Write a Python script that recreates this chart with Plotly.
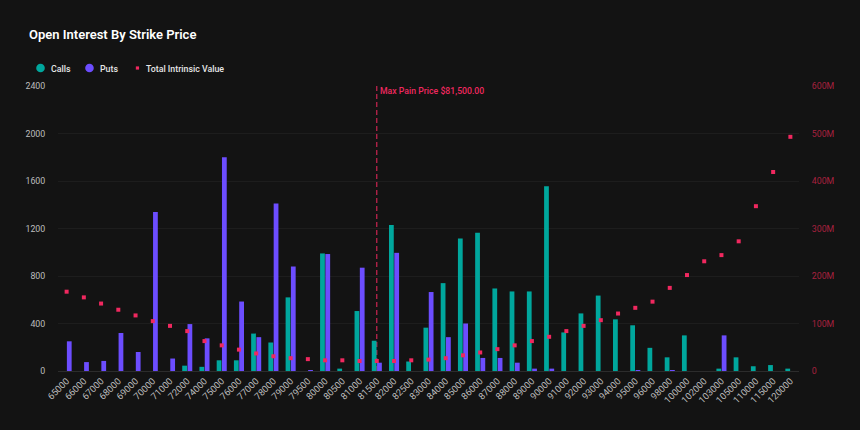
import plotly.graph_objects as go

strikes = [65000,66000,67000,68000,69000,70000,71000,72000,74000,75000,76000,77000,78000,79000,79500,
           80000,80500,81000,81500,82000,82500,83000,84000,85000,86000,87000,88000,89000,90000,91000,
           92000,93000,94000,95000,96000,98000,100000,102000,103000,105000,110000,115000,120000]
calls = [0,0,0,0,0,0,0,45,35,90,90,315,240,620,0,
         990,20,505,255,1230,80,365,740,1115,1165,695,670,670,1555,325,
         485,635,435,385,195,115,300,0,20,115,40,50,20]
puts = [250,75,85,320,160,1340,105,395,275,1800,585,285,1410,880,8,
        985,0,870,70,995,0,665,285,400,110,110,70,20,20,0,
        0,0,0,8,0,8,0,0,300,0,0,0,0]
intrinsic_m = [167,155,142,129,117,105,95,84,63,54,45,37,31,27,25,
               22.5,22.5,21,21,21,22.5,24,27,33,39,46,54,63,72,84,
               95,107,121,133,146,175,202,231,244,273,347,419,493]
left_ticks = [0,400,800,1200,1600,2000,2400]
right_ticks = [0,100,200,300,400,500,600]
right_labels = ["0","100M","200M","300M","400M","500M","600M"]
max_pain_strike = "81500"
max_pain_label = "Max Pain Price $81,500.00"
legend_names = ["Calls", "Puts", "Total Intrinsic Value"]

BG = "#131313"; TEAL = "#00A79D"; PURPLE = "#6C4DFF"; RED = "#F0285F"
FONT = "Roboto"
W, H = 860, 430
ML, MR, MT, MB = 57.5, 61, 86, 59
cats = [str(s) for s in strikes]
pain_pos = cats.index(max_pain_strike)

def px(x):
    return (x - ML) / (W - ML - MR)
def py(y):
    return 1 - (y - MT) / (H - MT - MB)

fig = go.Figure()
fig.add_trace(go.Bar(x=cats, y=calls, name=legend_names[0], marker=dict(color=TEAL, line_width=0)))
fig.add_trace(go.Bar(x=cats, y=puts, name=legend_names[1], marker=dict(color=PURPLE, line_width=0)))
fig.add_trace(go.Scatter(x=cats, y=[v*1e6 for v in intrinsic_m], name=legend_names[2], mode="markers", yaxis="y2",
                         marker=dict(color=RED, size=4, symbol="square")))

fig.add_shape(type="line", xref="x", yref="paper", x0=pain_pos, x1=pain_pos, y0=0, y1=1,
              line=dict(color=RED, width=1, dash="5px,3px"), layer="below")
fig.add_annotation(xref="x", yref="paper", x=pain_pos, y=1, xanchor="left", yanchor="top",
                   xshift=1, yshift=2, text=max_pain_label, showarrow=False,
                   font=dict(family=FONT, size=8.7, color=RED, weight=500))

# legend row: round swatches close to their labels
for name, color, cx, tx, r in [(legend_names[0], TEAL, 40, 49.5, 4.3),
                               (legend_names[1], PURPLE, 89, 98.5, 4.3),
                               (legend_names[2], RED, 137, 145, 1.6)]:
    fig.add_shape(type="circle" if r > 2 else "rect", xref="paper", yref="paper", layer="above",
                  x0=px(cx-r), x1=px(cx+r), y0=py(68+r), y1=py(68-r),
                  fillcolor=color, line_width=0)
    fig.add_annotation(xref="paper", yref="paper", x=px(tx), y=py(68.5), xanchor="left", yanchor="middle",
                       xshift=-1, text=name, showarrow=False,
                       font=dict(family=FONT, size=8.8, color="#E6E6E6", weight=500))

fig.update_layout(
    width=W, height=H, margin=dict(l=ML, r=MR, t=MT, b=MB, autoexpand=False),
    paper_bgcolor=BG, plot_bgcolor=BG, font=dict(family=FONT, size=9, color="#BDBDBD"),
    barmode="group", bargap=0.385, bargroupgap=0.1, showlegend=False,
    title=dict(text="Open Interest By Strike Price", x=29/W, xanchor="left", y=1-34/H, yanchor="middle",
               font=dict(family=FONT, size=13, color="#FFFFFF", weight=600)),
    xaxis=dict(type="category", categoryorder="array", categoryarray=cats, tickangle=-45,
               showgrid=False, showline=True, linecolor="#2C2C2C", linewidth=1, ticks="", ticklen=0,
               tickfont=dict(family=FONT, size=9.3, color="#BDBDBD"), tickmode="array", tickvals=cats, ticktext=cats,
               range=[-0.5, 42.5]),
    yaxis=dict(range=[0,2400], tickmode="array", tickvals=left_ticks, ticktext=[str(t) for t in left_ticks],
               showgrid=True, gridcolor="#1D1D1D", gridwidth=1, zeroline=False, showline=False,
               ticks="outside", ticklen=10, tickcolor=BG, tickfont=dict(family=FONT, size=8.8, color="#BDBDBD")),
    yaxis2=dict(range=[0,600e6], overlaying="y", side="right", tickmode="array",
                tickvals=[t*1e6 for t in right_ticks], ticktext=right_labels, showgrid=False, zeroline=False,
                ticks="outside", ticklen=10, tickcolor=BG, tickfont=dict(family=FONT, size=8.8, color="#A8213F")),
)
fig.write_html("out.html", config={"displayModeBar": False}, post_script="document.body.style.margin='0';")
